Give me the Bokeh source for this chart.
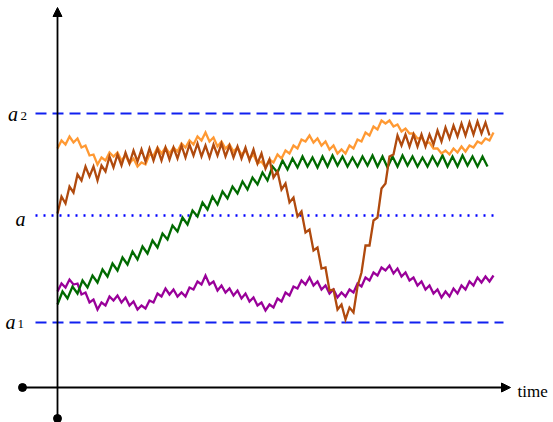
from bokeh.plotting import figure
from bokeh.models import Range1d, Arrow, NormalHead, ColumnDataSource
from bokeh.core.properties import value
from bokeh.embed import file_html
from bokeh.resources import INLINE

# ---- levels ----
a1_level, a_level, a2_level = 65, 172, 274

# ---- series (time steps evenly spaced) ----
green_y = [83, 96, 89, 101, 94, 107, 100, 112, 105, 118, 111, 124, 117, 130, 123, 136, 128, 141, 134, 147,
           140, 154, 148, 162, 156, 170, 163, 177, 171, 185, 178, 191, 183, 196, 189, 201, 194, 206, 198, 210,
           203, 215, 207, 221, 215, 227, 218, 229, 220,
           231, 221, 230, 220, 231, 221, 232, 222, 231, 221, 230, 221, 231, 222, 232, 221, 231, 220, 231, 221,
           232, 222, 231, 221, 230, 221, 231, 222, 232, 221, 231, 221, 232, 222, 231, 221, 231, 221]
green_x = list(range(0, 5 * len(green_y), 5))

brown_y = [174, 191, 184, 201, 195, 213, 207, 221, 211, 221, 207, 222, 216, 231, 220, 233, 222, 235, 224, 237,
           226, 238, 226, 239, 227, 239, 227, 240, 228, 240, 229, 242, 230, 243, 232, 244, 231, 242, 230, 243,
           232, 244, 231, 242, 230, 241, 229, 240, 227, 238, 224, 234, 219, 228, 210, 216, 198, 204, 185, 190,
           171, 176, 155, 158, 137, 140, 119, 120, 97, 98, 78, 83, 68, 80, 75, 101, 115, 142, 142, 167,
           170, 199, 204, 231, 233, 252, 242, 253, 241, 253, 241, 253, 241, 253, 243, 257, 246, 260, 249, 262,
           251, 264, 252, 265, 253, 266, 254, 265, 252]
brown_x = list(range(0, 4 * len(brown_y), 4))

orange_y = [239, 247, 243, 251, 245, 249, 240, 242, 232, 233, 223, 230, 227, 235, 231, 235, 227, 232, 224, 229,
            221, 225, 223, 233, 232, 240, 234, 240, 234, 240, 236, 244, 240, 247, 243, 251, 247, 255, 246, 250,
            241, 246, 239, 243, 236, 240, 233, 237, 229, 233, 224, 226, 220, 228, 225, 233, 229, 237, 234, 242,
            239, 248, 246, 252, 245, 249, 242, 246, 238, 242, 234, 238, 234, 242, 239, 248, 246, 255, 252, 261,
            258, 267, 264, 267, 261, 263, 256, 259, 254, 254, 249, 250, 244, 245, 239, 239, 234, 237, 233, 239,
            235, 241, 236, 242, 240, 246, 244, 249, 247, 255]
orange_x = list(range(0, 4 * len(orange_y), 4))

purple_y = [96, 104, 100, 108, 103, 104, 93, 95, 85, 88, 78, 85, 82, 91, 87, 92, 85, 90, 82, 86,
            78, 82, 79, 87, 85, 94, 91, 99, 93, 98, 91, 95, 91, 100, 98, 106, 103, 112, 103, 106,
            97, 102, 95, 99, 92, 97, 89, 94, 86, 90, 82, 85, 77, 83, 80, 89, 86, 95, 92, 101,
            99, 107, 103, 110, 102, 106, 98, 102, 94, 98, 90, 95, 91, 98, 95, 104, 101, 110, 107, 115,
            112, 120, 117, 122, 114, 119, 111, 115, 107, 110, 102, 106, 98, 102, 94, 98, 90, 96, 91, 99,
            94, 102, 98, 106, 102, 110, 105, 111, 106, 112]
purple_x = list(range(0, 4 * len(purple_y), 4))

label_texts = ["a", "a", "a"]
label_subs = ["1", "", "2"]
label_levels = [a1_level, a_level, a2_level]
axis_label = "time"

# ---- figure ----
p = figure(width=553, height=422, output_backend="svg", toolbar_location=None,
           x_range=Range1d(-57, 496), y_range=Range1d(-35, 387),
           x_axis_type=None, y_axis_type=None, min_border=0)
p.outline_line_color = None
p.background_fill_color = "white"
p.border_fill_color = "white"
p.grid.visible = False

BLUE = "#1020f0"
# reference levels
p.line([-22, 446], [a2_level, a2_level], line_color=BLUE, line_width=2, line_dash="11 6")
p.line([-22, 446], [a1_level, a1_level], line_color=BLUE, line_width=2, line_dash="11 6")
p.line([-22, 440], [a_level, a_level], line_color="#0000ff", line_width=2.4, line_dash="2 6")

# series
LW = 2.3
p.line(purple_x, purple_y, line_color="#990099", line_width=LW, line_join="miter")
p.line(green_x, green_y, line_color="#006a00", line_width=LW, line_join="miter")
p.line(orange_x, orange_y, line_color="#ff9933", line_width=LW, line_join="miter")
p.line(brown_x, brown_y, line_color="#b04a0e", line_width=LW, line_join="miter")

# axes with arrows
p.add_layout(Arrow(end=NormalHead(size=9, fill_color="black", line_color="black"),
                   x_start=-35, y_start=0, x_end=453, y_end=0, line_width=1.8, line_color="black"))
p.add_layout(Arrow(end=NormalHead(size=9, fill_color="black", line_color="black"),
                   x_start=0, y_start=-31, x_end=0, y_end=380, line_width=1.8, line_color="black"))
p.scatter([-35, 0], [0, -31], size=8, color="black")

# labels
src = ColumnDataSource(dict(
    x=[-52, -42, -49.5], y=[a1_level + 0.5, a_level - 3, a2_level],
    t=label_texts))
p.text(x="x", y="y", text="t", source=src, text_font=value("Liberation Serif"),
       text_font_style="italic", text_font_size="20px", text_baseline="alphabetic",
       text_align="left", text_color="black")
sub_src = ColumnDataSource(dict(
    x=[-40, -37], y=[a1_level - 1, a2_level - 2.5],
    t=[s for s in label_subs if s]))
p.text(x="x", y="y", text="t", source=sub_src, text_font=value("Liberation Serif"),
       text_font_size="13px", text_baseline="alphabetic", text_align="left", text_color="black")
p.text(x=[460], y=[-4], text=[axis_label], text_font=value("Liberation Serif"),
       text_font_size="17px", text_baseline="alphabetic", text_align="left", text_color="black")

open("out.html", "w").write(file_html(p, INLINE))
